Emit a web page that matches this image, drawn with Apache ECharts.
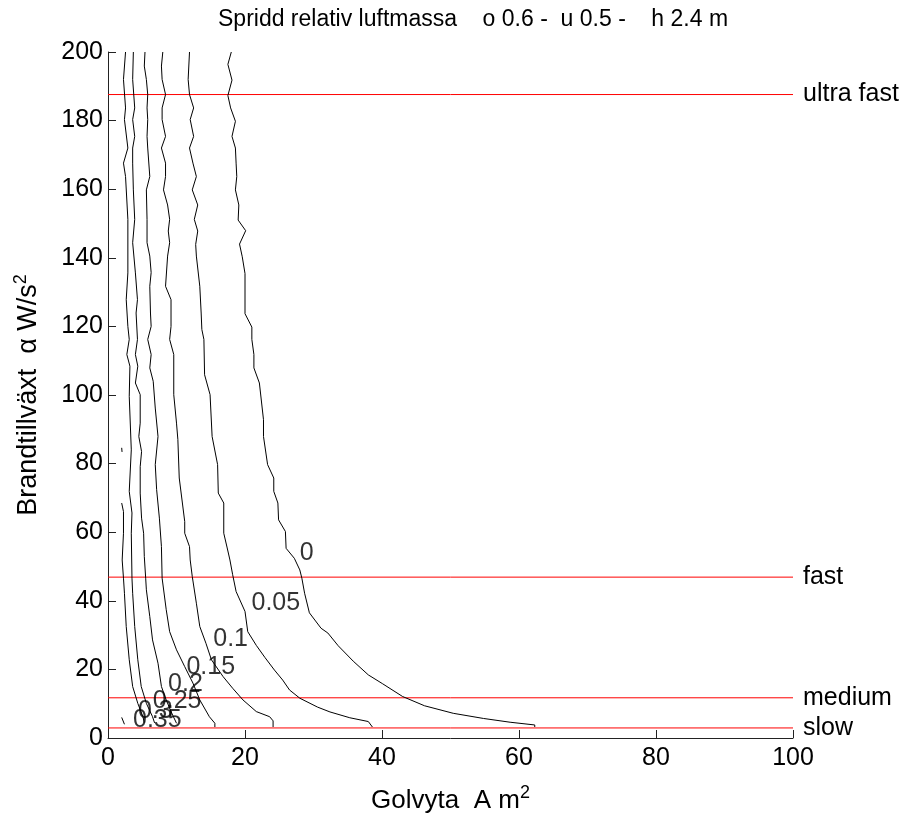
<!DOCTYPE html>
<html>
<head>
<meta charset="utf-8">
<script src="https://cdn.jsdelivr.net/npm/echarts/dist/echarts.min.js"></script>
<style>html,body{margin:0;padding:0;background:#fff}#c{width:907px;height:820px}</style>
</head>
<body>
<div id="c"></div>
<script>
// ---- data ----
const titleText = 'Spridd relativ luftmassa    o 0.6 -  u 0.5 -    h 2.4 m';
const xTicks = [0, 20, 40, 60, 80, 100];
const yTicks = [0, 20, 40, 60, 80, 100, 120, 140, 160, 180, 200];

const level0 = [[18.0,200],[17.5,196.4],[18.1,191.8],[17.5,187.3],[17.9,183.7],[18.6,179.8],[18.1,175.4],[18.6,172.0],[18.7,167.6],[18.8,163.7],[18.6,159.8],[19.1,155.4],[19.0,151.0],[20.1,147.9],[19.2,144.0],[19.6,140.3],[20.0,135.4],[20.0,123.7],[21.0,119.8],[21.0,116.2],[21.3,111.8],[21.3,107.9],[22.1,103.5],[22.7,92.8],[22.7,87.9],[23.3,79.7],[24.2,75.8],[24.2,71.9],[24.8,68.5],[24.9,63.6],[25.9,60.2],[26.0,55.3],[27.2,52.4],[28.0,49.0],[28.3,46.6],[28.7,42.2],[29.4,36.5],[31.1,32.0],[32.1,30.6],[33.6,26.9],[35.8,22.4],[38.0,18.4],[40.1,15.8],[43.0,12.1],[46.2,9.4],[50.4,7.2],[54.8,5.7],[58.7,4.6],[62.3,3.8],[62.3,3.2]];
const level005 = [[11.9,200],[11.7,192],[11.9,187.6],[12.5,183.7],[12.0,180.3],[12.5,175.4],[11.9,172.0],[12.4,167.6],[12.9,163.7],[12.3,159.8],[13.1,155.4],[12.6,151.2],[13.1,147.8],[12.8,143.9],[12.9,140.5],[13.4,131.7],[13.6,123.9],[13.7,119.1],[14.0,116.2],[14.1,105.9],[14.9,100.1],[15.2,87.9],[16.0,79.7],[16.1,71.4],[16.9,68.5],[16.9,59.7],[17.4,55.4],[17.8,51.9],[18.2,47.6],[18.7,42.7],[20.0,36.9],[20.4,31.0],[21.65,27.0],[22.9,23.5],[24.3,19.8],[25.5,16.9],[26.5,14.0],[28.0,11.6],[30.6,9.0],[32.4,7.6],[35.3,5.9],[38.0,4.8],[38.6,3.2]];
const level01 = [[8.0,200],[7.8,195.9],[7.9,192],[8.4,187.6],[7.9,183.7],[7.9,180.3],[8.4,175.4],[7.8,172.0],[8.4,167.6],[8.4,163.7],[8.1,159.8],[8.7,155.4],[9.0,151.2],[8.8,147.8],[9.0,144.4],[8.7,140.5],[8.4,131.7],[9.2,127.8],[9.2,120.0],[9.0,116.2],[9.6,111.8],[9.6,100.1],[10.0,91.8],[10.2,87.0],[10.4,75.8],[11.2,63.1],[11.2,59.7],[11.9,55.8],[12.0,51.9],[12.3,47.1],[12.9,39.3],[13.4,32.5],[14.3,27.6],[15.1,22.8],[16.8,17.9],[18.2,14.5],[19.7,11.1],[21.65,7.7],[23.6,6.2],[24.1,5.0],[24.1,3.2]];
const level015 = [[5.4,200],[5.3,195.9],[5.6,192],[5.8,187.6],[5.7,183.7],[5.8,180.3],[5.7,175.4],[5.8,172.0],[6.1,163.7],[5.6,159.8],[5.7,151.2],[5.7,144.4],[6.1,140.5],[6.3,135.7],[6.1,131.7],[6.2,123.9],[6.3,120.0],[5.8,116.2],[6.3,111.8],[6.1,107.9],[6.6,104.0],[6.9,96.2],[7.3,87.9],[6.9,79.7],[7.1,72.4],[7.5,64.1],[7.8,55.8],[7.9,46.6],[8.5,37.4],[9.0,31.0],[10.0,25.7],[11.2,20.8],[12.4,16.0],[13.4,11.1],[14.8,6.2],[15.6,4.3],[15.6,3.2]];
const level02 = [[3.7,200],[3.6,192],[3.9,183.7],[3.6,180.3],[3.9,175.4],[3.6,172.0],[3.6,167.6],[3.7,159.8],[3.9,151.2],[3.6,144.4],[4.0,135.6],[4.3,127.8],[4.1,123.9],[4.3,116.2],[4.0,111.8],[4.35,108.4],[4.0,103.5],[4.7,100.1],[4.7,91.8],[4.5,87.9],[4.9,83.5],[4.7,79.1],[4.7,71.4],[4.9,64.1],[5.2,59.7],[5.3,52.9],[5.5,46.6],[5.6,43.2],[6.1,35.4],[6.5,28.6],[7.3,21.8],[7.8,15.0],[8.5,11.1],[9.2,7.7],[10.0,4.3]];
const level025 = [[2.56,200],[2.26,192],[2.56,183.7],[2.4,180.3],[2.9,172.0],[2.26,167.6],[2.56,163.7],[2.9,151.2],[2.9,135.6],[2.66,127.8],[2.9,120.0],[3.1,116.2],[2.75,111.8],[3.2,108.4],[3.1,99.6],[3.4,84.0],[3.1,71.9],[3.5,65.6],[3.4,59.7],[3.5,46.6],[3.6,42.2],[3.9,32.5],[4.35,22.8],[4.85,15.0],[5.6,10.1],[6.5,6.2],[6.8,4.4]];
const level03 = [[2.0,68.5],[2.26,66.0],[2.26,59.7],[2.07,51.9],[2.26,46.6],[2.4,42.2],[2.66,32.5],[3.1,22.8],[3.6,15.0],[4.35,10.1],[5.1,6.2],[5.3,4.5]];
const level03b = [[2.0,84.6],[2.05,83.4]];
const level035 = [[2.0,6.0],[2.4,4.0]];

const contourLabels = [[29.0,54.0,'0'],[24.5,39.4,'0.05'],[17.9,28.9,'0.1'],[15.0,20.6,'0.15'],[11.3,15.8,'0.2'],[10.1,10.8,'0.25'],[6.9,7.9,'0.3'],[7.2,5.3,'0.35']];

const refNames = ['ultra fast', 'fast', 'medium', 'slow'];
const refValues = [187.6, 46.9, 11.72, 2.93];

// ---- chart ----
const FONT = '"Liberation Sans", Arial, sans-serif';
const chart = echarts.init(document.getElementById('c'), null, {renderer: 'canvas'});

const contourSegs = [level0, level005, level01, level015, level02, level025, level03, level03b, level035];
const series = [];
contourSegs.forEach((seg) => {
  series.push({
    type: 'line', data: seg, showSymbol: false, symbol: 'none',
    lineStyle: {color: '#000', width: 1}, silent: true, z: 3
  });
});
refNames.forEach((n, i) => {
  series.push({
    type: 'line', name: n, data: [[0, refValues[i]], [100, refValues[i]]],
    showSymbol: false, symbol: 'none', lineStyle: {color: '#ff0000', width: 1}, z: 2,
    endLabel: {show: true, formatter: n, color: '#000', fontSize: 25, fontFamily: FONT, distance: 10}
  });
});
series.push({
  type: 'scatter', data: contourLabels, symbolSize: 0, z: 5,
  label: {show: true, position: 'inside', formatter: p => p.value[2], color: '#000', fontSize: 25, fontFamily: FONT}
});

const supStyle = {fontSize: 18, fontFamily: FONT, color: '#000', padding: [0, 0, 16, 0]};
chart.setOption({
  animation: false,
  backgroundColor: '#fff',
  title: {text: titleText, left: 213, top: 3, textStyle: {fontSize: 23, fontWeight: 'normal', color: '#000', fontFamily: FONT}},
  grid: {left: 108, right: 114, top: 52, bottom: 82, containLabel: false},
  xAxis: {
    type: 'value', min: xTicks[0], max: xTicks[xTicks.length - 1], interval: 20,
    name: 'Golvyta  A m{sup|2}', nameLocation: 'middle', nameGap: 46,
    nameTextStyle: {color: '#000', fontSize: 26, fontFamily: FONT, rich: {sup: supStyle}},
    axisLine: {lineStyle: {color: '#222', width: 1}},
    axisTick: {inside: true, length: 8, lineStyle: {color: '#222'}},
    axisLabel: {color: '#000', fontSize: 25, fontFamily: FONT, margin: 8},
    splitLine: {show: false}
  },
  yAxis: {
    type: 'value', min: yTicks[0], max: yTicks[yTicks.length - 1], interval: 20,
    name: 'Brandtillväxt  α W/s{sup|2}', nameLocation: 'middle', nameGap: 62, nameRotate: 90,
    nameTextStyle: {color: '#000', fontSize: 27, fontFamily: FONT, rich: {sup: supStyle}},
    axisLine: {show: true, lineStyle: {color: '#222', width: 1}},
    axisTick: {show: true, inside: true, length: 8, lineStyle: {color: '#222'}},
    axisLabel: {color: '#000', fontSize: 25, fontFamily: FONT, margin: 5},
    splitLine: {show: false}
  },
  series: series
});
</script>
</body>
</html>
